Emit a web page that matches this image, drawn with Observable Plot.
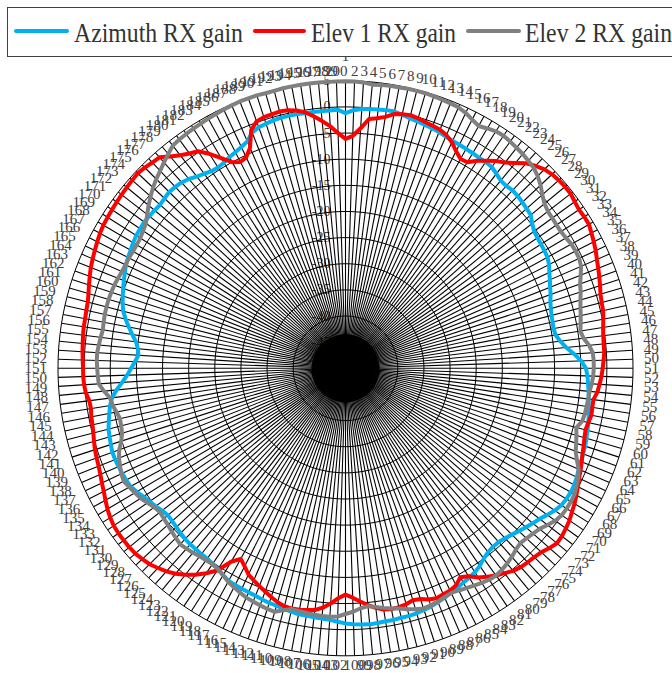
<!DOCTYPE html>
<html><head><meta charset="utf-8">
<script src="https://cdn.jsdelivr.net/npm/d3@7"></script>
<script src="https://cdn.jsdelivr.net/npm/@observablehq/plot@0.6"></script>
<style>
html,body{margin:0;padding:0;background:#fff;overflow:hidden;width:672px;height:673px}
svg{display:block}
#legend{position:relative;z-index:2}
#chart{position:relative;z-index:1}
</style></head>
<body>
<svg id="legend" width="672" height="57"></svg>
<div id="chart"></div>
<script>
// ---------- data ----------
const categories = d3.range(1, 201); // category labels 1..200
const seriesNames = ["Azimuth RX gain", "Elev 1 RX gain", "Elev 2 RX gain"];
const seriesColors = ["#00B0F0", "#FF0000", "#808080"];
const radialTicks = [5, 0, -5, -10, -15, -20, -25, -30, -35, -40, -45, -50];
const rMin = -50, rMax = 5;

const azimuth = [
-1.2,-0.6,-0.3,-0.2,-0.1,0.0,0.0,-0.3,-0.6,-0.8,
-1.0,-1.2,-1.4,-1.7,-1.9,-2.0,-2.1,-2.2,-2.3,-2.3,
-2.4,-2.9,-3.4,-3.5,-3.3,-3.4,-3.6,-3.8,-4.0,-4.8,
-5.4,-5.6,-5.7,-5.8,-5.9,-6.3,-6.9,-7.4,-7.9,-8.3,
-8.8,-9.1,-9.3,-9.4,-9.5,-9.3,-8.6,-7.6,-6.2,-4.9,
-4.0,-3.7,-3.5,-3.3,-3.1,-2.9,-2.6,-2.4,-2.2,-2.0,
-1.8,-1.7,-1.5,-1.4,-1.1,-0.9,-0.8,-0.9,-1.1,-1.6,
-2.3,-3.0,-3.5,-4.0,-4.5,-5.0,-5.4,-5.7,-5.7,-5.5,
-5.0,-4.3,-3.8,-3.5,-3.2,-2.9,-2.6,-2.2,-1.9,-1.6,
-1.4,-1.2,-1.1,-1.1,-1.0,-1.0,-0.9,-0.8,-0.9,-1.0,
-1.2,-1.5,-1.8,-1.9,-2.0,-2.1,-2.1,-2.3,-2.5,-2.7,
-2.8,-3.0,-3.2,-3.3,-3.4,-3.5,-3.6,-4.0,-4.5,-4.8,
-5.0,-5.0,-5.1,-5.1,-5.2,-5.4,-5.6,-5.8,-5.9,-5.6,
-5.1,-4.7,-4.2,-3.6,-3.1,-2.9,-2.8,-2.7,-2.6,-2.6,
-2.8,-3.0,-3.2,-3.6,-4.0,-4.4,-5.0,-6.0,-7.2,-8.2,
-9.0,-9.7,-10.3,-10.1,-9.6,-8.7,-7.8,-6.9,-6.1,-5.6,
-5.2,-4.8,-4.4,-4.0,-3.6,-3.3,-3.1,-2.8,-2.6,-2.5,
-2.4,-2.5,-2.6,-2.7,-2.5,-2.3,-2.4,-2.6,-3.0,-3.6,
-4.0,-4.4,-4.5,-4.3,-3.9,-3.6,-3.2,-2.7,-1.5,-1.0,
-0.8,-0.6,-0.5,-0.5,-0.5,-0.6,-0.6,-0.6,-0.6,-0.5
];
const elev1 = [
-6.1,-5.5,-4.0,-2.1,-1.8,-1.3,-0.5,-0.2,0.0,-0.2,
-0.5,-0.7,-0.9,-1.4,-2.2,-3.4,-4.3,-4.2,-3.0,-2.0,
-1.0,-0.2,1.0,2.3,3.1,3.8,4.2,4.4,4.5,4.5,
4.2,4.0,4.1,4.1,3.7,3.3,2.9,2.4,2.0,1.6,
1.2,0.8,0.6,0.5,0.2,-0.1,-0.3,-0.4,-0.4,-0.6,
-0.8,-1.0,-1.3,-1.6,-2.2,-2.2,-2.1,-2.4,-2.6,-2.4,
-2.1,-1.8,-1.4,-1.0,-0.6,-0.1,0.4,0.9,1.3,1.8,
2.1,2.4,2.5,2.0,1.4,1.1,0.9,0.7,0.3,-0.4,
-1.0,-1.8,-2.6,-3.8,-4.4,-3.4,-3.0,-2.9,-2.7,-3.0,
-3.6,-3.8,-3.4,-3.2,-3.1,-3.3,-3.8,-4.5,-5.3,-6.1,
-6.7,-6.0,-4.9,-4.0,-3.4,-3.2,-3.0,-2.9,-3.0,-3.4,
-4.0,-4.6,-5.2,-5.8,-6.4,-7.5,-8.4,-7.0,-4.2,-2.6,
-1.2,0.0,1.0,1.8,2.4,3.0,3.3,3.6,3.7,3.7,
3.7,3.6,3.3,2.9,2.4,1.9,1.5,1.1,0.8,0.6,
0.4,0.1,-0.2,-0.4,-0.5,-0.7,-0.6,-0.1,0.1,0.2,
0.2,0.3,0.4,0.5,0.6,0.7,0.7,0.8,0.9,1.2,
1.6,2.0,2.4,2.7,3.0,3.3,3.6,3.8,3.9,4.0,
4.1,4.2,4.3,4.4,4.5,4.3,4.0,3.8,2.6,1.6,
0.8,0.2,-1.4,-3.3,-5.0,-5.7,-5.4,-4.0,-1.0,0.2,
0.5,0.6,0.7,0.6,0.2,-0.4,-1.4,-2.5,-3.6,-5.0
];
const elev2 = [
4.9,4.9,4.8,4.5,4.6,4.7,4.7,4.8,4.8,4.8,
4.7,4.6,4.5,4.4,4.0,3.4,2.9,3.3,3.7,3.8,
3.6,3.4,3.2,2.9,2.6,2.0,1.2,0.2,-0.6,-1.0,
-1.1,-1.2,-1.2,-1.0,-0.7,-0.6,-0.6,-0.9,-1.6,-2.3,
-2.7,-3.2,-3.6,-3.9,-4.2,-4.5,-4.1,-3.2,-2.6,-2.5,
-2.5,-2.6,-2.8,-3.1,-3.2,-3.3,-3.4,-3.6,-4.4,-4.0,
-3.6,-3.2,-2.4,-1.4,-0.8,-0.4,0.0,0.1,0.1,0.0,
-0.4,-1.1,-1.8,-2.2,-2.5,-2.7,-2.4,-1.9,-1.5,-1.2,
-1.0,-1.1,-1.4,-1.7,-2.0,-2.3,-2.5,-2.3,-2.0,-1.8,
-1.7,-2.0,-2.4,-2.9,-3.2,-3.6,-4.0,-4.3,-4.0,-3.4,
-3.0,-2.5,-2.4,-2.4,-2.5,-2.6,-2.7,-2.8,-2.2,-1.5,
-1.6,-1.8,-2.0,-2.2,-2.6,-3.0,-3.4,-4.0,-4.5,-4.7,
-4.6,-4.5,-4.2,-4.0,-3.8,-4.1,-4.4,-4.7,-4.9,-5.1,
-4.8,-4.2,-3.6,-3.2,-2.8,-2.4,-2.6,-3.0,-3.4,-4.0,
-4.9,-5.5,-5.7,-5.8,-5.4,-4.9,-4.6,-3.6,-2.7,-2.6,
-2.5,-2.4,-2.4,-2.6,-2.8,-3.0,-2.9,-2.8,-2.8,-2.8,
-2.9,-3.0,-3.2,-3.4,-3.5,-3.5,-3.6,-3.6,-3.5,-3.2,
-2.8,-2.0,-1.1,-0.3,0.5,1.2,1.8,2.5,3.2,3.9,
4.1,4.2,4.3,4.4,4.5,4.6,4.7,4.8,4.9,4.9,
4.9,4.8,4.8,4.9,4.9,4.9,4.9,4.9,4.9,4.9
];
const seriesValues = [azimuth, elev1, elev2];

// ---------- legend ----------
const leg = d3.select("#legend");
leg.append("rect").attr("x", 7.5).attr("y", 7.5).attr("width", 700).attr("height", 49)
  .attr("fill", "#fff").attr("stroke", "#404040").attr("stroke-width", 1);
const legItems = [
  {x1: 16, x2: 67, tx: 74, len: 169},
  {x1: 255, x2: 304, tx: 311, len: 145},
  {x1: 468, x2: 519, tx: 525, len: 147}
];
legItems.forEach((it, k) => {
  leg.append("line").attr("x1", it.x1).attr("x2", it.x2).attr("y1", 31).attr("y2", 31)
    .attr("stroke", seriesColors[k]).attr("stroke-width", 4).attr("stroke-linecap", "round");
  leg.append("text").attr("x", it.tx).attr("y", 42)
    .attr("font-family", "Liberation Serif").attr("font-size", 28).attr("fill", "#333")
    .attr("textLength", it.len).attr("lengthAdjust", "spacingAndGlyphs")
    .text(seriesNames[k]);
});

// ---------- radar via azimuthal projection ----------
const K = 0.01;                      // degrees of arc per dB
const span = (rMax - rMin) * K;      // outer ring angular radius
const Rpx = 287.5;                   // outer ring radius in px (frame 600px => 300px radius)
const pxPerDeg = Rpx / span;
const lon = c => 180 - (c - 1) * 360 / categories.length;
const lat = v => 90 - (v - rMin) * K;

function labelLat(c) {
  const t = (c - 1) * 360 / categories.length * Math.PI / 180;
  const w = String(c).length * 7.5;
  let off;
  if ((c - 1) % 100 === 0) off = 25;
  else off = 3 + Math.abs(Math.sin(t)) * (8 + w / 2) + Math.abs(Math.cos(t)) * 6;
  return 90 - span - off / pxPerDeg;
}

const ringLevels = radialTicks.filter(v => v > rMin);
const ringRows = [];
ringLevels.forEach(L => {
  for (let c = 1; c <= categories.length + 1; c++) ringRows.push({level: L, cat: c});
});
const lineRows = [];
seriesNames.forEach((name, k) => {
  for (let c = 1; c <= categories.length + 1; c++) {
    lineRows.push({name, cat: c, value: seriesValues[k][(c - 1) % categories.length]});
  }
});

const chart = Plot.plot({
  width: 672,
  height: 616,
  marginLeft: 45, marginRight: 27, marginTop: 10.8, marginBottom: 5.2,
  style: {background: "white", fontFamily: "Liberation Serif", overflow: "visible"},
  projection: {
    type: "azimuthal-equidistant",
    rotate: [0, -90],
    clip: null,
    domain: d3.geoCircle().center([0, 90]).radius(span * 300 / Rpx)()
  },
  color: {domain: seriesNames, range: seriesColors},
  marks: [
    Plot.text(radialTicks, {
      x: 180, y: d => lat(d), text: d => String(d),
      textAnchor: "end", dx: -15, fontSize: 14, fill: "#404040", fontFamily: "Liberation Serif"
    }),
    Plot.line(ringRows, {
      x: d => lon(d.cat), y: d => lat(d.level), z: "level",
      stroke: "black", strokeWidth: 1
    }),
    Plot.link(categories, {
      x1: c => lon(c), y1: lat(rMax), x2: c => lon(c), y2: 90,
      stroke: "black", strokeWidth: 1.1
    }),
    // inner, denser part of the spokes (renders as the solid hub)
    Plot.link(categories, {
      x1: c => lon(c), y1: lat(-43.5), x2: c => lon(c), y2: 90,
      stroke: "black", strokeWidth: 1.4
    }),
    Plot.line(lineRows, {
      x: d => lon(d.cat), y: d => lat(d.value), z: "name", stroke: "name",
      strokeWidth: 4, strokeLinejoin: "round", strokeLinecap: "round"
    }),
    Plot.text(categories, {
      x: c => lon(c), y: c => labelLat(c), text: c => String(c),
      fontSize: 15, fill: "#404040", fontFamily: "Liberation Serif"
    })
  ]
});
document.getElementById("chart").appendChild(chart);
</script>
</body></html>
